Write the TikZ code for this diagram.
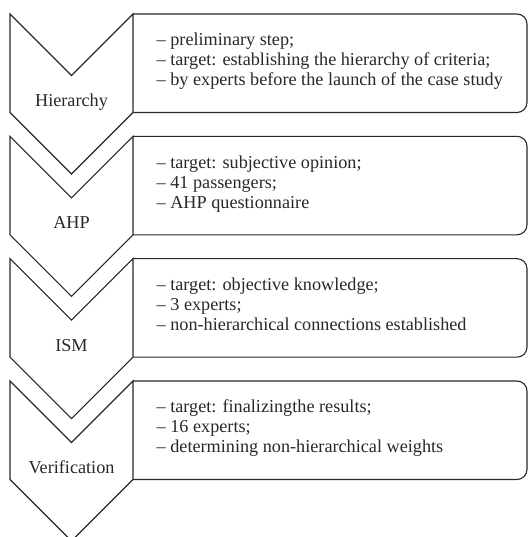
\documentclass[tikz,border=0pt]{standalone}
\usepackage{fontspec}
\setmainfont{Liberation Serif}
\definecolor{ink}{RGB}{40,40,40}
\begin{document}
\begin{tikzpicture}[x=1pt,y=-1pt,
  shapeline/.style={draw=ink,line width=1.1pt,line join=miter},
  infotext/.style={anchor=base west,inner sep=0pt,text=ink,font=\fontsize{18.2}{20}\selectfont},
  steplabel/.style={anchor=base,inner sep=0pt,text=ink,font=\fontsize{18.2}{20}\selectfont}]
\useasboundingbox (0,0) rectangle (528,537);
\clip (0,0) rectangle (528,537);
\foreach \i/\lab/\la/\lb/\lc in {
  0/Hierarchy/{– preliminary step;}/{– target: establishing the hierarchy of criteria;}/{– by experts before the launch of the case study},
  1/AHP/{– target: subjective opinion;}/{– 41 passengers;}/{– AHP questionnaire},
  2/ISM/{– target: objective knowledge;}/{– 3 experts;}/{– non-hierarchical connections established},
  3/Verification/{– target: finalizingthe results;}/{– 16 experts;}/{– determining non-hierarchical weights}}{
  \pgfmathsetmacro{\tp}{14+122.33*\i}
  \pgfmathsetmacro{\bt}{\tp+98.5}
  % chevron
  \draw[shapeline] (10,\tp) -- (71.5,\tp+61.5) -- (133,\tp) -- (133,\bt) -- (71.5,\bt+61.5) -- (10,\bt) -- cycle;
  % box with rounded right corners
  \draw[shapeline,rounded corners=10pt] (133,\tp) -- (527,\tp) -- (527,\bt) -- (133,\bt);
  \node[steplabel] (lab\i) at (71.5,\bt-6) {\lab};
  \node[infotext] (t\i a) at (156.5,\tp+32) {\la};
  \node[infotext] (t\i b) at (156.5,\tp+52) {\lb};
  \node[infotext] (t\i c) at (156.5,\tp+72) {\lc};
}
\end{tikzpicture}
\end{document}
